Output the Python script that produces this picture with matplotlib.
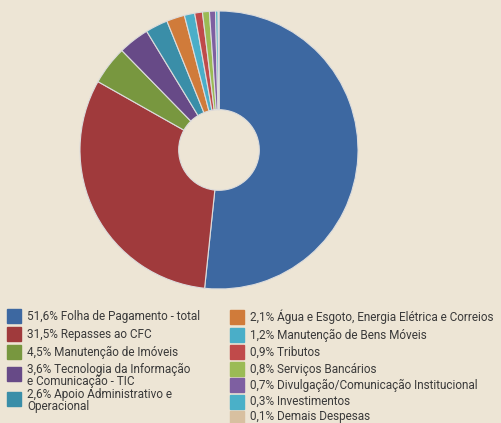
import matplotlib.pyplot as plt
from matplotlib.patches import Rectangle

# despesas (%)
labels = ['Folha de Pagamento - total', 'Repasses ao CFC', 'Manutenção de Imóveis',
          'Tecnologia da Informação\ne Comunicação - TIC', 'Apoio Administrativo e\nOperacional',
          'Água e Esgoto, Energia Elétrica e Correios', 'Manutenção de Bens Móveis',
          'Tributos', 'Serviços Bancários', 'Divulgação/Comunicação Institucional',
          'Investimentos', 'Demais Despesas']
values = [51.6, 31.5, 4.5, 3.6, 2.6, 2.1, 1.2, 0.9, 0.8, 0.7, 0.3, 0.1]
colors = ['#3d68a1', '#a03a3c', '#78973f', '#674a87', '#3a8ea8', '#d07b3a',
          '#4aaec8', '#c04a4a', '#9bbb55', '#7e5fa1', '#4ab0c8', '#d8c0a0']

bg = '#ede5d5'
plt.rcParams['font.family'] = ['Roboto', 'DejaVu Sans']

fig = plt.figure(figsize=(5.01, 4.23), dpi=100, facecolor=bg)
W, H = 501, 423
cx, cy, r = 219, 150, 139
ax = fig.add_axes([(cx - r) / W, (H - cy - r) / H, 2 * r / W, 2 * r / H])
ax.pie(values, colors=colors, startangle=90, counterclock=False,
       wedgeprops=dict(width=0.71, edgecolor='#dcdcdc', linewidth=0.8))
ax.set_aspect('equal')
ax.set_xlim(-1, 1)
ax.set_ylim(-1, 1)

# legend, two columns: (x, square centre y, last baseline y) in pixels
left = [(316, 320), (334, 338), (352, 356), (374, 385), (399, 410)]
right = [(317, 321), (335, 339), (352, 356), (369, 373), (385, 389), (402, 405), (418, 420)]
pos = [(7, s, b) for s, b in left] + [(230, s, b) for s, b in right]
for (x, s, b), v, lab, c in zip(pos, values, labels, colors):
    fig.add_artist(Rectangle((x / W, (H - s - 7) / H), 14 / W, 14 / H,
                             transform=fig.transFigure, color=c))
    txt = f'{v:.1f}'.replace('.', ',') + '% ' + lab
    fig.text((x + 20) / W, (H - b) / H, txt, fontsize=8.5, color='#3a3a3a',
             va='baseline', ha='left', linespacing=0.88)

fig.savefig('out.png', dpi=100, facecolor=bg)
